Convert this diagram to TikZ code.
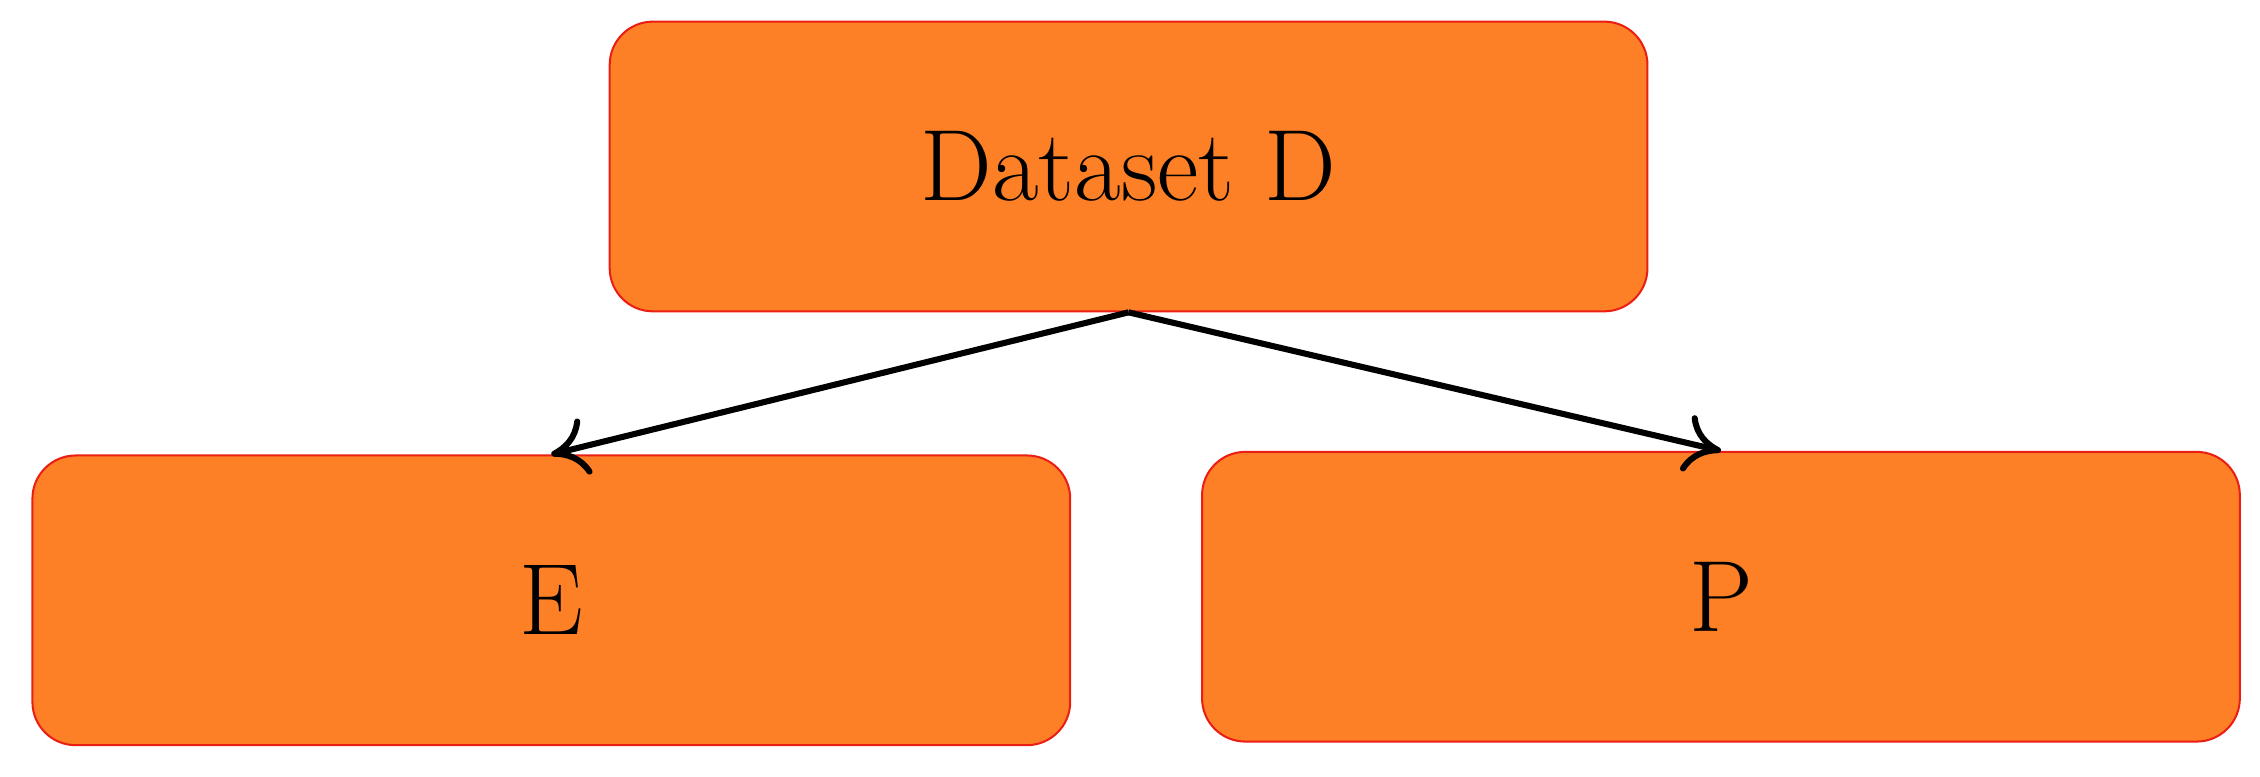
\documentclass[tikz,border=0pt]{standalone}
\usetikzlibrary{arrows.meta}
\definecolor{boxorange}{RGB}{253,127,38}
\definecolor{boxred}{RGB}{235,30,20}
\tikzset{
  box/.style={draw=boxred,fill=boxorange,rounded corners=0.3cm,
    minimum width=7.2cm,minimum height=2.01cm,
    font=\fontsize{20}{24}\selectfont},
  link/.style={very thick,-{To[length=2.5mm,width=4mm]}}
}
\begin{document}
\begin{tikzpicture}
    \useasboundingbox (0,0) rectangle (15.68,5.39);

    % Cajas
    \node[box] (D) at (7.83,4.235) {Dataset D};
    \node[box] (E) at (3.825,1.225) {E};
    \node[box] (P) at (11.94,1.25) {P};

    % Flechas
    \draw[link] (D.south) -- (E.north);
    \draw[link] (D.south) -- (P.north);
\end{tikzpicture}
\end{document}
